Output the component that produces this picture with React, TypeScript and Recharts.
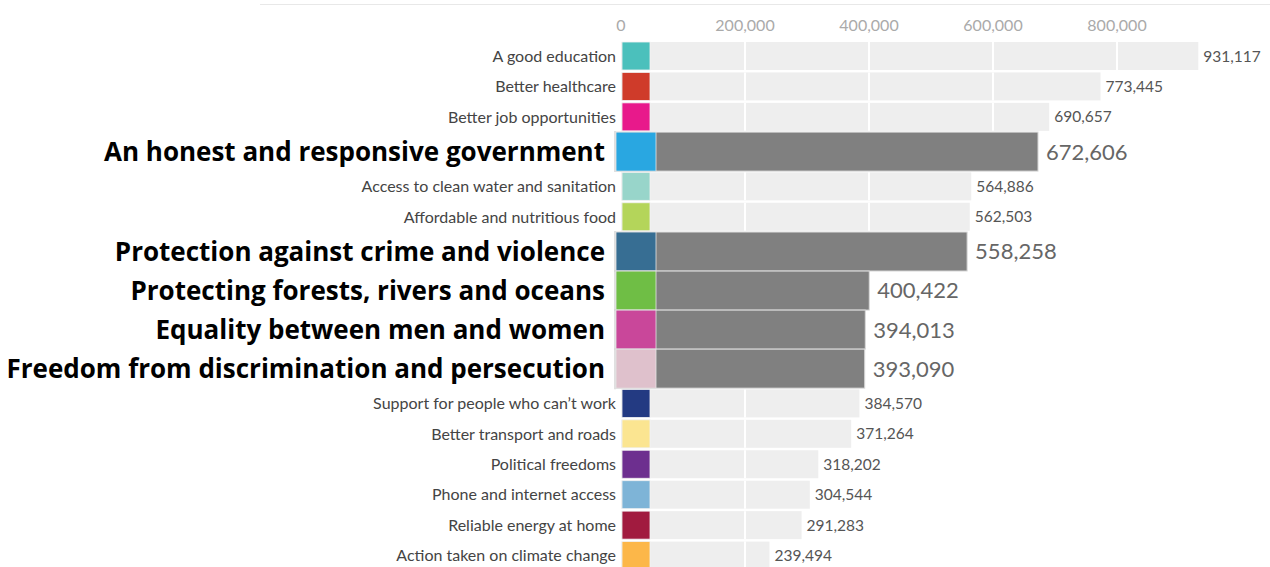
import React from "react";
import { BarChart, Bar, XAxis, YAxis, LabelList } from "recharts";

const CATEGORIES = [
  "A good education",
  "Better healthcare",
  "Better job opportunities",
  "An honest and responsive government",
  "Access to clean water and sanitation",
  "Affordable and nutritious food",
  "Protection against crime and violence",
  "Protecting forests, rivers and oceans",
  "Equality between men and women",
  "Freedom from discrimination and persecution",
  "Support for people who can\u2019t work",
  "Better transport and roads",
  "Political freedoms",
  "Phone and internet access",
  "Reliable energy at home",
  "Action taken on climate change",
];

const VOTES = [
  931117, 773445, 690657, 672606, 564886, 562503, 558258, 400422,
  394013, 393090, 384570, 371264, 318202, 304544, 291283, 239494,
];

const HIGHLIGHTED = [
  false, false, false, true, false, false, true, true,
  true, true, false, false, false, false, false, false,
];

const COLORS = [
  "#4bc0bc", "#cf3b2a", "#e8198b", "#29a7e1", "#98d5ca", "#b4d55a",
  "#376e93", "#6fbe45", "#c9479a", "#dfc1cc", "#233a82", "#fbe591",
  "#6d2f8f", "#7eb4d7", "#a11b3f", "#fcb749",
];

const X_TICKS = [0, 200000, 400000, 600000, 800000];

// row slots: emphasised rows take more vertical room
const BIG = 39 / 30.4;
let acc = 0;
const data = CATEGORIES.map((name, i) => {
  const slot = HIGHLIGHTED[i] ? BIG : 1;
  const pos = acc + slot / 2;
  acc += slot;
  return { name, value: VOTES[i], hl: HIGHLIGHTED[i], color: COLORS[i], pos };
});
const TOTAL = acc;

const fmt = (v: number) => v.toLocaleString("en-US");
const LATO = "Lato, 'Open Sans', sans-serif";

function RowShape(props: any) {
  const { x, y, width, height, payload } = props;
  const cy = y + height / 2;
  const pxPerUnit = width / payload.value;
  if (payload.hl) {
    const h = 39;
    const top = cy - h / 2;
    return (
      <g>
        <line x1={x - 6} x2={x - 6} y1={top - 1} y2={top + h + 1} stroke="#d6d6d6" strokeWidth={1.5} />
        <rect x={x - 5} y={top} width={width + 5} height={h} fill="#808080" stroke="#d9d9d9" strokeWidth={1} />
        <rect x={x - 5} y={top} width={40} height={h} fill={payload.color} stroke="#e6e6e6" strokeWidth={0.8} />
      </g>
    );
  }
  const h = 28;
  const top = cy - h / 2;
  return (
    <g>
      <rect x={x} y={top} width={width} height={h} fill="#eeeeee" />
      {X_TICKS.filter((t) => t > 0 && t * pxPerUnit < width).map((t) => (
        <line key={t} x1={x + t * pxPerUnit} x2={x + t * pxPerUnit} y1={top} y2={top + h} stroke="#ffffff" strokeWidth={2} />
      ))}
      <rect x={x + 1} y={top} width={28} height={h} fill={payload.color} stroke="#f2f2f2" strokeWidth={0.8} />
    </g>
  );
}

function NameLabel(props: any) {
  const { x, y, height, index } = props;
  const row = data[index];
  const cy = y + height / 2;
  if (row.hl) {
    return (
      <text x={x - 16} y={cy} dy="0.36em" textAnchor="end" fontFamily="'Open Sans', sans-serif" fontWeight={700} fontSize={26} fill="#000">
        {row.name}
      </text>
    );
  }
  return (
    <text x={x - 5} y={cy} dy="0.36em" textAnchor="end" fontFamily={LATO} fontSize={16} fill="#444">
      {row.name}
    </text>
  );
}

function ValueLabel(props: any) {
  const { x, y, width, height, index } = props;
  const row = data[index];
  const cy = y + height / 2;
  return (
    <text
      x={x + width + (row.hl ? 8 : 5)}
      y={cy}
      dy="0.36em"
      fontFamily={LATO}
      fontSize={row.hl ? 22 : 15.5}
      fill={row.hl ? "#666" : "#555"}
    >
      {fmt(row.value)}
    </text>
  );
}

export default function App() {
  return (
    <div style={{ position: "absolute", left: 0, top: 0, width: 1270, height: 567, overflow: "hidden", background: "#fff" }}>
      <div style={{ position: "absolute", left: 260, top: 4, width: 1010, height: 1, background: "#e8e8e8" }} />
      <BarChart
        width={1270}
        height={571}
        data={data}
        layout="vertical"
        margin={{ top: 0, right: 29, left: 621, bottom: 0 }}
      >
        <XAxis
          type="number"
          orientation="top"
          domain={[0, 1000000]}
          ticks={X_TICKS}
          tickFormatter={fmt}
          height={41}
          axisLine={false}
          tickLine={false}
          tickSize={0}
          tickMargin={10}
          tick={{ fill: "#aaaaaa", fontSize: 16, fontFamily: LATO }}
          interval={0}
        />
        <YAxis
          type="number"
          dataKey="pos"
          domain={[0, TOTAL]}
          width={0}
          tick={false}
          tickLine={false}
          axisLine={{ stroke: "#cccccc", strokeWidth: 1.5 }}
        />
        <Bar dataKey="value" barSize={26} shape={RowShape} isAnimationActive={false}>
          <LabelList dataKey="name" content={NameLabel} />
          <LabelList dataKey="value" content={ValueLabel} />
        </Bar>
      </BarChart>
    </div>
  );
}
